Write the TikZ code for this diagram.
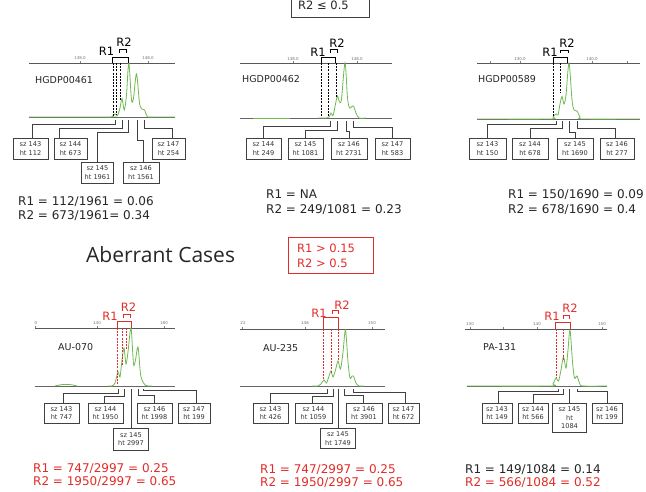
\documentclass[tikz,border=0pt]{standalone}
\usepackage{fontspec}
\setmainfont{DejaVu Sans}
\newfontfamily\osans{Open Sans}
\definecolor{redc}{RGB}{225,45,40}
\definecolor{trace}{RGB}{110,185,80}
\tikzset{
 axisln/.style={draw=black!65, line width=0.6pt},
 baseln/.style={draw=black!60, line width=0.6pt},
 trc/.style={draw=trace, line width=0.8pt},
 dsh/.style={dash pattern=on 2pt off 1.2pt, line width=0.85pt},
 brk/.style={line width=0.7pt},
 lead/.style={draw=black!75, line width=0.7pt},
 sbox/.style={draw=black!75, line width=0.6pt, font=\fontsize{6.6}{8.3}\selectfont, text=black!80, align=center, inner sep=1pt, minimum height=21pt},
 tck/.style={font=\fontsize{4}{4}\selectfont, text=black!55, inner sep=0pt},
 tckm/.style={draw=black!50, line width=0.4pt},
 rlab/.style={font=\fontsize{11.5}{12}\selectfont, inner sep=0pt},
 plab/.style={font=\fontsize{9.5}{10}\selectfont, text=black!85, anchor=west, inner sep=0pt},
 eq/.style={font=\fontsize{12}{13}\selectfont, text=black!85, anchor=base west, inner sep=0pt},
}
\begin{document}
\begin{tikzpicture}[x=1pt,y=-1pt]
\useasboundingbox (0,0) rectangle (646,492);
\fill[white] (0,0) rectangle (646,492);

% ---------------- top criteria box (cut off) ----------------
\node[draw=black!75, line width=0.7pt, minimum width=78pt, minimum height=37pt, inner sep=0pt] (normbox) at (330,-1.5) {};
\node[font=\fontsize{11.5}{12}\selectfont, text=black!85, anchor=base west, inner sep=0pt] (normtxt) at (298,10) {R2 ≤ 0.5};

% ================= Panel 1 : HGDP00461 =================
\draw[axisln] (29,63) -- (175,63);
\draw[baseln] (29,117) -- (175,117);
\draw[tckm] (80,61) -- (80,63) (148,61) -- (148,63);
\node[tck] (p1t1) at (80,58) {138.0};
\node[tck] (p1t2) at (148,58) {148.0};
\draw[trc] plot[smooth, tension=0.5] coordinates {(29,117) (108,117) (112,116.5) (115,114) (117.5,115.5) (120,108) (122,98.5) (124.3,110) (126.5,95) (128.8,63) (131.5,100) (133.5,98) (136.5,74) (139.5,103) (142,109) (144.5,110) (147,116) (150,117) (175,117)};
\draw[dsh] (113,63) -- (113,117) (116.5,63) -- (116.5,115) (120,63) -- (120,100);
\draw[brk] (112,63) -- (112,57) -- (128,57) -- (128,63);
\draw[brk] (119,53) -- (119,49.5) -- (126,49.5) -- (126,53);
\node[rlab] (p1r1) at (106.5,51) {R1};
\node[rlab] (p1r2) at (124,42) {R2};
\node[plab] (p1name) at (35,80) {HGDP00461};
\node[sbox, minimum width=35pt] (p1b1) at (30.5,148.5) {sz 143\\ht 112};
\node[sbox, minimum width=33pt] (p1b2) at (70.5,148.5) {sz 144\\ht 673};
\node[sbox, minimum width=32pt] (p1b3) at (97.5,172.5) {sz 145\\ht 1961};
\node[sbox, minimum width=36pt] (p1b4) at (141,172.5) {sz 146\\ht 1561};
\node[sbox, minimum width=33pt] (p1b5) at (168.5,148.5) {sz 147\\ht 254};
\coordinate (p1k1) at (115,120);
\coordinate (p1k2) at (122,120);
\coordinate (p1k3) at (128,120);
\coordinate (p1k4) at (137,120);
\coordinate (p1k5) at (144,120);
\draw[lead] (p1k1) -- ++(0,4) -| ([xshift=1.5pt]p1b1.north);
\draw[lead] (p1k2) -- ++(0,8) -| ([xshift=-11.5pt]p1b2.north);
\draw[lead] (p1k3) -- ++(0,12) -| (p1b3.north);
\draw[lead] (p1k4) -- ++(0,20) -| ([xshift=2pt]p1b4.north);
\draw[lead] (p1k5) -- ++(0,8) -| ([xshift=3.5pt]p1b5.north);
\node[eq] (p1e1) at (18,206) {R1 = 112/1961 = 0.06};
\node[eq] (p1e2) at (18,219.5) {R2 = 673/1961= 0.34};

% ================= Panel 2 : HGDP00462 =================
\draw[axisln] (240,63) -- (392,63);
\draw[baseln] (240,118) -- (392,118);
\draw[tckm] (293,61) -- (293,63) (357,61) -- (357,63);
\node[tck] (p2t1) at (293,59) {138.0};
\node[tck] (p2t2) at (357,59) {148.0};
\draw[trc] (253,118) -- (290,118);
\draw[trc] plot[smooth, tension=0.5] coordinates {(318,118) (327,118) (329.5,116.5) (331,113) (333,115.5) (335.5,104) (337.5,96) (339.5,102) (341.5,99) (345,63) (347.5,98) (349.5,108) (351.5,107) (353.5,106) (356,113) (359,118) (366,118)};
\draw[dsh] (321,63) -- (321,117) (328,63) -- (328,117) (336,63) -- (336,97);
\draw[brk] (321,63) -- (321,57) -- (335,57) -- (335,63);
\draw[brk] (330,53) -- (330,49.5) -- (337,49.5) -- (337,53);
\node[rlab] (p2r1) at (318,52) {R1};
\node[rlab] (p2r2) at (337,43) {R2};
\node[plab] (p2name) at (242,79) {HGDP00462};
\node[sbox, minimum width=35pt] (p2b1) at (263.5,148.5) {sz 144\\ht 249};
\node[sbox, minimum width=35pt] (p2b2) at (305.5,148.5) {sz 145\\ht 1081};
\node[sbox, minimum width=36pt] (p2b3) at (349,148.5) {sz 146\\ht 2731};
\node[sbox, minimum width=35pt] (p2b4) at (392.5,148.5) {sz 147\\ht 583};
\coordinate (p2k1) at (330,121);
\coordinate (p2k2) at (337,121);
\coordinate (p2k3) at (346,121);
\coordinate (p2k4) at (353,121);
\draw[lead] (p2k1) -- ++(0,5) -| (p2b1.north);
\draw[lead] (p2k2) -- ++(0,9) -| (p2b2.north);
\draw[lead] (p2k3) -- ++(0,10) -| (p2b3.north);
\draw[lead] (p2k4) -- ++(0,6) -| (p2b4.north);
\node[eq] (p2e1) at (266,198.5) {R1 = NA};
\node[eq] (p2e2) at (266,213.5) {R2 = 249/1081 = 0.23};

% ================= Panel 3 : HGDP00589 =================
\draw[axisln] (477,63) -- (640,63);
\draw[baseln] (477,119) -- (640,119);
\draw[tckm] (490,61) -- (490,63) (520,61) -- (520,63) (592,61) -- (592,63) (627,61) -- (627,63);
\node[tck] (p3t1) at (520,59) {130.0};
\node[tck] (p3t2) at (592,59) {140.0};
\draw[trc] plot[smooth, tension=0.5] coordinates {(477,119) (550,119) (553,117) (556,114) (558,115) (560,104) (562,96.5) (564,104) (566,95) (569,63) (572,100) (574,110) (577,111) (580,117) (583,119) (640,119)};
\draw[dsh] (553,63) -- (553,116) (560,63) -- (560,92);
\draw[brk] (553,63) -- (553,57) -- (567,57) -- (567,63);
\draw[brk] (560,53) -- (560,50) -- (568,50) -- (568,53);
\node[rlab] (p3r1) at (550,52) {R1};
\node[rlab] (p3r2) at (567,43) {R2};
\node[plab] (p3name) at (478,79) {HGDP00589};
\node[sbox, minimum width=37pt] (p3b1) at (487.5,148.5) {sz 143\\ht 150};
\node[sbox, minimum width=36pt] (p3b2) at (530,148.5) {sz 144\\ht 678};
\node[sbox, minimum width=36pt] (p3b3) at (575,148.5) {sz 145\\ht 1690};
\node[sbox, minimum width=34pt] (p3b4) at (617,148.5) {sz 146\\ht 277};
\coordinate (p3k1) at (556,121);
\coordinate (p3k2) at (562,121);
\coordinate (p3k3) at (569,121);
\coordinate (p3k4) at (577,121);
\draw[lead] (p3k1) -- ++(0,3) -| (p3b1.north);
\draw[lead] (p3k2) -- ++(0,7) -| (p3b2.north);
\draw[lead] (p3k3) -- ++(0,11) -| (p3b3.north);
\draw[lead] (p3k4) -- ++(0,7) -| ([xshift=-2pt]p3b4.north);
\node[eq] (p3e1) at (508,198.5) {R1 = 150/1690 = 0.09};
\node[eq] (p3e2) at (508,213.5) {R2 = 678/1690 = 0.4};

% ================= Aberrant header =================
\node[font=\osans\fontsize{21}{24}\selectfont, text=black!85, anchor=west, inner sep=0pt] (abtitle) at (86,255) {Aberrant Cases};
\node[draw=redc, line width=0.7pt, minimum width=85pt, minimum height=36pt, inner sep=0pt] (abbox) at (330.5,255) {};
\node[font=\fontsize{11.5}{12}\selectfont, text=redc, anchor=base west, inner sep=0pt] (abt1) at (297,252.5) {R1 > 0.15};
\node[font=\fontsize{11.5}{12}\selectfont, text=redc, anchor=base west, inner sep=0pt] (abt2) at (297,267) {R2 > 0.5};

% ================= Panel 4 : AU-070 =================
\draw[axisln] (35,328) -- (175,328);
\draw[baseln] (35,386) -- (175,386);
\draw[tckm] (35,326) -- (35,328) (97,326) -- (97,328) (164,326) -- (164,328);
\node[tck] (p4t1) at (36,323) {0};
\node[tck] (p4t2) at (97,323) {140};
\node[tck] (p4t3) at (164,323) {180};
\draw[trc] plot[smooth, tension=0.6] coordinates {(55,386) (62,384.6) (70,384.6) (77,386)};
\draw[trc] plot[smooth, tension=0.5] coordinates {(108,386) (112,386) (115,383) (118,372) (120,377) (122,360) (124,348) (126,364) (128,352) (131,328) (133.5,364) (135.5,360) (138,347) (140.5,374) (143,382) (145,385) (148,386) (152,386)};
\draw[dsh, draw=redc] (117.5,328) -- (117.5,384) (122.5,328) -- (122.5,365) (126.5,328) -- (126.5,350);
\draw[brk, draw=redc] (117,328) -- (117,321.5) -- (131,321.5) -- (131,328);
\draw[brk, draw=redc] (123,318) -- (123,314.5) -- (130,314.5) -- (130,318);
\node[rlab, text=redc] (p4r1) at (110,316) {R1};
\node[rlab, text=redc] (p4r2) at (128.5,307) {R2};
\node[plab] (p4name) at (58,347) {AU-070};
\node[sbox, minimum width=35pt, minimum height=20pt] (p4b1) at (61.5,413) {sz 143\\ht 747};
\node[sbox, minimum width=35pt, minimum height=20pt] (p4b2) at (105.5,413) {sz 144\\ht 1950};
\node[sbox, minimum width=35pt, minimum height=22pt] (p4b3) at (131,439) {sz 145\\ht 2997};
\node[sbox, minimum width=35pt, minimum height=20pt] (p4b4) at (154.5,413) {sz 146\\ht 1998};
\node[sbox, minimum width=32pt, minimum height=20pt] (p4b5) at (194,413) {sz 147\\ht 199};
\coordinate (p4k1) at (118,389);
\coordinate (p4k2) at (124,389);
\coordinate (p4k3) at (131,389);
\coordinate (p4k4) at (138,389);
\coordinate (p4k5) at (143,389);
\draw[lead] (p4k1) -- ++(0,4) -| ([xshift=1.5pt]p4b1.north);
\draw[lead] (p4k2) -- ++(0,7) -| ([xshift=-1.5pt]p4b2.north);
\draw[lead] (p4k3) -- (p4b3.north);
\draw[lead] (p4k4) -- ++(0,6) -| (p4b4.north);
\draw[lead] (p4k5) -- ++(0,1.5) -| ([xshift=2pt]p4b5.north);
\node[eq, text=redc] (p4e1) at (33,472.3) {R1 = 747/2997 = 0.25};
\node[eq, text=redc] (p4e2) at (33,485.7) {R2 = 1950/2997 = 0.65};

% ================= Panel 5 : AU-235 =================
\draw[axisln] (240,329) -- (385,329);
\draw[baseln] (240,386) -- (385,386);
\draw[tckm] (242,327) -- (242,329) (305,327) -- (305,329) (372,327) -- (372,329);
\node[tck] (p5t1) at (243,323.5) {22};
\node[tck] (p5t2) at (305,323.5) {146};
\node[tck] (p5t3) at (372,323.5) {150};
\draw[trc] plot[smooth, tension=0.5] coordinates {(312,386) (318,386) (321,384) (324,380) (326.5,383) (329,376) (331,371) (333,377) (335.5,370) (338,361) (340.5,369) (343,352) (345.5,330) (348,362) (350,378) (352,376) (353.5,376) (356,383) (359,386) (364,386)};
\draw[dsh, draw=redc] (323,329) -- (323,380) (331,329) -- (331,373) (338,329) -- (338,360);
\draw[brk, draw=redc] (323,329) -- (323,317.5) -- (338,317.5) -- (338,329);
\draw[brk, draw=redc] (332,313.5) -- (332,310.5) -- (338,310.5) -- (338,313.5);
\node[rlab, text=redc] (p5r1) at (319,313) {R1};
\node[rlab, text=redc] (p5r2) at (342,305) {R2};
\node[plab] (p5name) at (263,348) {AU-235};
\node[sbox, minimum width=35pt, minimum height=20pt] (p5b1) at (270.5,413) {sz 143\\ht 426};
\node[sbox, minimum width=37pt, minimum height=20pt] (p5b2) at (313.5,413) {sz 144\\ht 1059};
\node[sbox, minimum width=35pt, minimum height=20pt] (p5b3) at (338,438.5) {sz 145\\ht 1749};
\node[sbox, minimum width=36pt, minimum height=20pt] (p5b4) at (364,413) {sz 146\\ht 3901};
\node[sbox, minimum width=31pt, minimum height=20pt] (p5b5) at (403.5,413) {sz 147\\ht 672};
\coordinate (p5k1) at (327,389);
\coordinate (p5k2) at (333,389);
\coordinate (p5k3) at (338,389);
\coordinate (p5k4) at (344,389);
\coordinate (p5k5) at (353,389);
\draw[lead] (p5k1) -- ++(0,4) -| (p5b1.north);
\draw[lead] (p5k2) -- ++(0,7) -| ([xshift=-1.5pt]p5b2.north);
\draw[lead] (p5k3) -- (p5b3.north);
\draw[lead] (p5k4) -- ++(0,6) -| ([xshift=-1pt]p5b4.north);
\draw[lead] (p5k5) -- ++(0,3) -| ([xshift=1.5pt]p5b5.north);
\node[eq, text=redc] (p5e1) at (260,473.3) {R1 = 747/2997 = 0.25};
\node[eq, text=redc] (p5e2) at (260,486.7) {R2 = 1950/2997 = 0.65};

% ================= Panel 6 : PA-131 =================
\draw[axisln] (465,329) -- (607,329);
\draw[baseln] (467,386) -- (607,386);
\draw[tckm] (470,327) -- (470,329) (503,327) -- (503,329) (537,327) -- (537,329) (602,327) -- (602,329);
\node[tck] (p6t1) at (470,324) {130};
\node[tck] (p6t2) at (537,324) {140};
\node[tck] (p6t3) at (602,324) {150};
\draw[trc] plot[smooth, tension=0.5] coordinates {(467,386) (550,386) (553,384) (556,378) (558.5,381) (561,370) (563.5,357) (566,368) (568,350) (570,330) (572.5,362) (574.5,378) (577,376) (579.5,383) (583,386) (607,386)};
\draw[dsh, draw=redc] (556,329) -- (556,378) (563,329) -- (563,360);
\draw[brk, draw=redc] (555,329) -- (555,322) -- (570,322) -- (570,329);
\draw[brk, draw=redc] (563,318.5) -- (563,315.5) -- (569,315.5) -- (569,318.5);
\node[rlab, text=redc] (p6r1) at (552,316) {R1};
\node[rlab, text=redc] (p6r2) at (570,308) {R2};
\node[plab] (p6name) at (483,347) {PA-131};
\node[sbox, minimum width=30pt, minimum height=20pt] (p6b1) at (497,413) {sz 143\\ht 149};
\node[sbox, minimum width=30pt, minimum height=20pt] (p6b2) at (533,413) {sz 144\\ht 566};
\node[sbox, minimum width=34pt, minimum height=29pt, anchor=north] (p6b3) at (569.5,403) {sz 145\\ht\\1084};
\node[sbox, minimum width=30pt, minimum height=20pt] (p6b4) at (607,413) {sz 146\\ht 199};
\coordinate (p6k1) at (558,389);
\coordinate (p6k2) at (563,389);
\coordinate (p6k3) at (569.5,389);
\coordinate (p6k4) at (577,389);
\draw[lead] (p6k1) -- ++(0,2) -| ([xshift=1pt]p6b1.north);
\draw[lead] (p6k2) -- ++(0,5) -| (p6b2.north);
\draw[lead] (p6k3) -- (p6b3.north);
\draw[lead] (p6k4) -- ++(0,2) -| (p6b4.north);
\node[eq] (p6e1) at (465,473.3) {R1 = 149/1084 = 0.14};
\node[eq, text=redc] (p6e2) at (465,486.7) {R2 = 566/1084 = 0.52};
\end{tikzpicture}
\end{document}
